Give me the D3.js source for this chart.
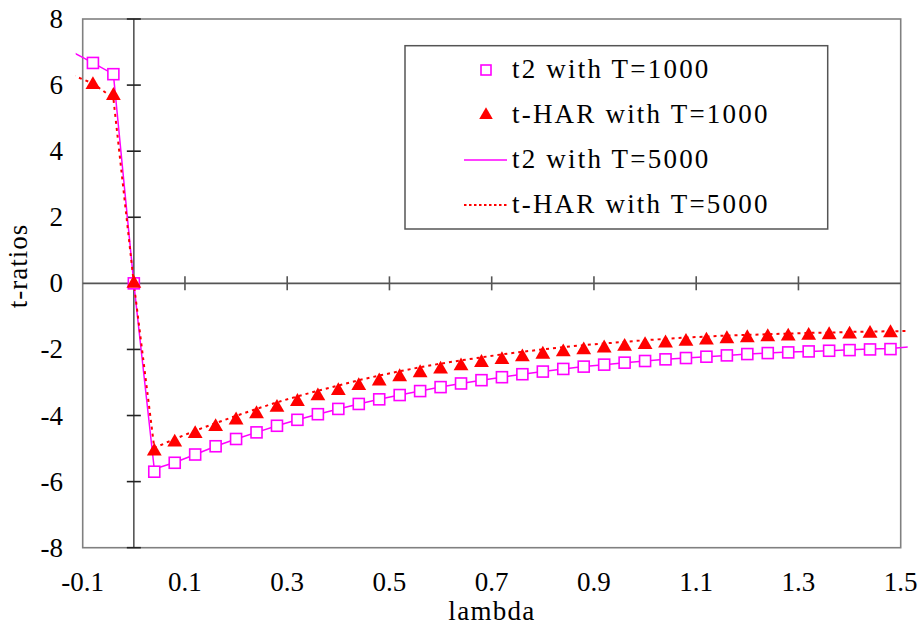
<!DOCTYPE html>
<html>
<head>
<meta charset="utf-8">
<script src="https://cdn.jsdelivr.net/npm/d3@7"></script>
<style>
  html, body { margin: 0; padding: 0; background: #fff; }
  svg { display: block; }
</style>
</head>
<body>
<svg id="chart" width="924" height="633"></svg>
<script>
// ---------- data ----------
const lambda1000 = [-0.08, -0.04, 0, 0.04, 0.08, 0.12, 0.16, 0.20, 0.24, 0.28, 0.32, 0.36, 0.40, 0.44, 0.48,
  0.52, 0.56, 0.60, 0.64, 0.68, 0.72, 0.76, 0.80, 0.84, 0.88, 0.92, 0.96, 1.00, 1.04, 1.08,
  1.12, 1.16, 1.20, 1.24, 1.28, 1.32, 1.36, 1.40, 1.44, 1.48];
const t2_T1000 = [6.67, 6.33, 0, -5.70, -5.43, -5.18, -4.93, -4.71, -4.51, -4.31, -4.13, -3.96, -3.80, -3.65, -3.51,
  -3.38, -3.26, -3.14, -3.03, -2.93, -2.84, -2.75, -2.67, -2.59, -2.52, -2.46, -2.40, -2.35, -2.30, -2.26,
  -2.22, -2.18, -2.14, -2.11, -2.09, -2.06, -2.04, -2.02, -2.00, -1.99];
const tHAR_T1000 = [6.01, 5.68, 0, -5.08, -4.81, -4.55, -4.34, -4.14, -3.95, -3.76, -3.58, -3.41, -3.25, -3.10, -2.96,
  -2.83, -2.71, -2.60, -2.50, -2.40, -2.31, -2.23, -2.15, -2.08, -2.02, -1.96, -1.91, -1.86, -1.81, -1.76,
  -1.72, -1.68, -1.65, -1.62, -1.60, -1.58, -1.56, -1.54, -1.52, -1.50];

const lambda5000 = [-0.12, -0.08, -0.04, 0, 0.04, 0.08, 0.12, 0.16, 0.20, 0.24, 0.28, 0.32, 0.36, 0.40, 0.44, 0.48,
  0.52, 0.56, 0.60, 0.64, 0.68, 0.72, 0.76, 0.80, 0.84, 0.88, 0.92, 0.96, 1.00, 1.04, 1.08,
  1.12, 1.16, 1.20, 1.24, 1.28, 1.32, 1.36, 1.40, 1.44, 1.48, 1.52];
const t2_T5000 = [7.00, 6.67, 6.33, 0, -5.62, -5.42, -5.18, -4.93, -4.71, -4.51, -4.31, -4.13, -3.96, -3.80, -3.65, -3.51,
  -3.38, -3.26, -3.14, -3.03, -2.93, -2.84, -2.75, -2.67, -2.59, -2.52, -2.46, -2.40, -2.35, -2.30, -2.26,
  -2.22, -2.18, -2.14, -2.11, -2.08, -2.06, -2.04, -2.01, -1.99, -1.97, -1.92];
const tHAR_T5000 = [6.30, 6.05, 5.60, 0, -4.98, -4.71, -4.46, -4.23, -4.01, -3.80, -3.60, -3.42, -3.25, -3.09, -2.93, -2.79,
  -2.66, -2.54, -2.43, -2.33, -2.24, -2.15, -2.07, -2.00, -1.93, -1.87, -1.82, -1.77, -1.72, -1.68, -1.64,
  -1.61, -1.58, -1.56, -1.54, -1.52, -1.50, -1.49, -1.47, -1.46, -1.45, -1.44];

const xTicks = [-0.1, 0.1, 0.3, 0.5, 0.7, 0.9, 1.1, 1.3, 1.5];
const yTicks = [-8, -6, -4, -2, 0, 2, 4, 6, 8];
const legendLabels = ["t2 with T=1000", "t-HAR with T=1000", "t2 with T=5000", "t-HAR with T=5000"];

// ---------- layout ----------
const FONT = "Liberation Serif, DejaVu Serif, Noto Serif, Times New Roman, Times, serif";
const svg = d3.select("#chart").style("font-family", FONT);
const pL = 82.7, pR = 900.7, pT = 19, pB = 547.7;
const x = d3.scaleLinear().domain([-0.1, 1.5]).range([pL, pR]);
const y = d3.scaleLinear().domain([-8, 8]).range([pB, pT]);
const MAG = "#ff00ff", RED = "#ff0000";
const FS = 27;
const hyph = s => s.replace("\u2212", "-");

// frame
svg.append("rect")
  .attr("x", pL).attr("y", pT)
  .attr("width", pR - pL).attr("height", pB - pT)
  .attr("fill", "none").attr("stroke", "#808080").attr("stroke-width", 1.6);

// zero axes
svg.append("line").attr("x1", x(0)).attr("x2", x(0)).attr("y1", pT).attr("y2", pB)
  .attr("stroke", "#555").attr("stroke-width", 1.6);
svg.append("line").attr("x1", pL).attr("x2", pR).attr("y1", y(0)).attr("y2", y(0))
  .attr("stroke", "#555").attr("stroke-width", 1.6);

// ticks on zero axes
svg.append("g").selectAll("line").data(yTicks.filter(d => d !== 0)).join("line")
  .attr("x1", x(0) - 7).attr("x2", x(0) + 7)
  .attr("y1", d => y(d)).attr("y2", d => y(d))
  .attr("stroke", "#222").attr("stroke-width", 1.6);
svg.append("g").selectAll("line").data(xTicks.filter(d => d > -0.1 && d < 1.5)).join("line")
  .attr("x1", d => x(d)).attr("x2", d => x(d))
  .attr("y1", y(0) - 7).attr("y2", y(0) + 7)
  .attr("stroke", "#555").attr("stroke-width", 1.6);

// tick labels
svg.append("g").selectAll("text").data(yTicks).join("text")
  .attr("x", 63).attr("y", d => y(d) + 9)
  .attr("text-anchor", "end").style("font-size", FS + "px").style("font-family", FONT)
  .text(d => hyph(d3.format("d")(d)));
svg.append("g").selectAll("text").data(xTicks).join("text")
  .attr("x", d => x(d)).attr("y", 591)
  .attr("text-anchor", "middle").style("font-size", FS + "px").style("font-family", FONT)
  .text(d => hyph(d3.format(".1f")(d)));

// axis titles
svg.append("text").attr("x", 492).attr("y", 620).attr("text-anchor", "middle")
  .style("font-size", FS + "px").style("font-family", FONT).attr("letter-spacing", 1.3).text("lambda");
svg.append("text").attr("transform", "translate(27,266) rotate(-90)").attr("text-anchor", "middle")
  .style("font-size", FS + "px").style("font-family", FONT).attr("letter-spacing", 1).text("t-ratios");

// clip for lines
svg.append("clipPath").attr("id", "clip").append("rect")
  .attr("x", pL - 7).attr("y", pT).attr("width", pR - pL + 14).attr("height", pB - pT);

const line = d3.line().x(d => x(d[0])).y(d => y(d[1]));
const s5a = lambda5000.map((l, i) => [l, t2_T5000[i]]);
const s5b = lambda5000.map((l, i) => [l, tHAR_T5000[i]]);
svg.append("path").datum(s5a).attr("d", line).attr("clip-path", "url(#clip)")
  .attr("fill", "none").attr("stroke", MAG).attr("stroke-width", 1.5);
svg.append("path").datum(s5b).attr("d", line).attr("clip-path", "url(#clip)")
  .attr("fill", "none").attr("stroke", RED).attr("stroke-width", 2).attr("stroke-dasharray", "3,4");

// markers
const sq = 11;
svg.append("g").selectAll("rect").data(lambda1000.map((l, i) => [l, t2_T1000[i]])).join("rect")
  .attr("x", d => x(d[0]) - sq / 2).attr("y", d => y(d[1]) - sq / 2)
  .attr("width", sq).attr("height", sq)
  .attr("fill", "#fff").attr("stroke", MAG).attr("stroke-width", 1.6);
const tri = d3.symbol().type(d3.symbolTriangle).size(95);
svg.append("g").selectAll("path").data(lambda1000.map((l, i) => [l, tHAR_T1000[i]])).join("path")
  .attr("transform", d => `translate(${x(d[0])},${y(d[1])})`)
  .attr("d", tri).attr("fill", RED);

// legend
const lg = svg.append("g");
lg.append("rect").attr("x", 405).attr("y", 45.7).attr("width", 422.7).attr("height", 183.3)
  .attr("fill", "#fff").attr("stroke", "#555").attr("stroke-width", 1.5);
const rowY = [70, 115, 160, 205];
lg.append("rect").attr("x", 486 - 5).attr("y", rowY[0] - 5).attr("width", 10).attr("height", 10)
  .attr("fill", "#fff").attr("stroke", MAG).attr("stroke-width", 1.6);
lg.append("path").attr("transform", `translate(486,${rowY[1]})`)
  .attr("d", d3.symbol().type(d3.symbolTriangle).size(80)).attr("fill", RED);
lg.append("line").attr("x1", 464).attr("x2", 507).attr("y1", rowY[2]).attr("y2", rowY[2])
  .attr("stroke", MAG).attr("stroke-width", 1.5);
lg.append("line").attr("x1", 464).attr("x2", 507).attr("y1", rowY[3]).attr("y2", rowY[3])
  .attr("stroke", RED).attr("stroke-width", 2).attr("stroke-dasharray", "2.5,2.5");
lg.selectAll("text.lab").data(legendLabels).join("text").attr("class", "lab")
  .attr("x", 512).attr("y", (d, i) => rowY[i] + 8)
  .style("font-size", FS + "px").style("font-family", FONT).attr("letter-spacing", 2.2)
  .text(d => d);
</script>
</body>
</html>
